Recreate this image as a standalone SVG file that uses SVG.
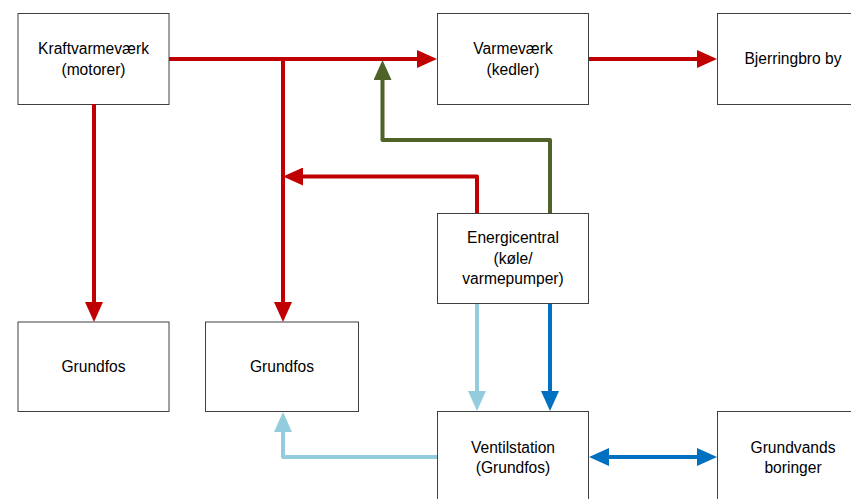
<svg xmlns="http://www.w3.org/2000/svg" width="851" height="499" viewBox="0 0 851 499">
<style>
.box{fill:#fff;stroke:#404040;stroke-width:1}
.t{font-family:"Liberation Sans",Arial,sans-serif;font-size:15.6px;fill:#000;text-anchor:middle}
.c{fill:none;stroke-width:4;stroke-linejoin:round}
.red{stroke:#C00000}
.grn{stroke:#4F6228}
.lb{stroke:#93CDDD}
.db{stroke:#0070C0}
</style>
<defs>
<marker id="aRed" viewBox="0 0 20 18" refX="10" refY="9" markerWidth="20" markerHeight="18" markerUnits="userSpaceOnUse" orient="auto-start-reverse"><path d="M0,0 L20,9 L0,18 Z" fill="#C00000"/></marker>
<marker id="aGrn" viewBox="0 0 20 18" refX="10" refY="9" markerWidth="20" markerHeight="18" markerUnits="userSpaceOnUse" orient="auto-start-reverse"><path d="M0,0 L20,9 L0,18 Z" fill="#4F6228"/></marker>
<marker id="aLb" viewBox="0 0 20 18" refX="10" refY="9" markerWidth="20" markerHeight="18" markerUnits="userSpaceOnUse" orient="auto-start-reverse"><path d="M0,0 L20,9 L0,18 Z" fill="#93CDDD"/></marker>
<marker id="aDb" viewBox="0 0 20 18" refX="10" refY="9" markerWidth="20" markerHeight="18" markerUnits="userSpaceOnUse" orient="auto-start-reverse"><path d="M0,0 L20,9 L0,18 Z" fill="#0070C0"/></marker>
</defs>
<rect width="851" height="499" fill="#fff"/>
<g id="n-kraftvarme"><rect class="box" x="18" y="13.5" width="151" height="91"/><text class="t" x="93.5" y="54">Kraftvarmeværk</text><text class="t" x="93.5" y="74.5">(motorer)</text></g>
<g id="n-varmevaerk"><rect class="box" x="437.5" y="13.5" width="151" height="91"/><text class="t" x="513" y="54">Varmeværk</text><text class="t" x="513" y="74.5">(kedler)</text></g>
<g id="n-bjerringbro"><rect class="box" x="717.5" y="13.5" width="151" height="91"/><text class="t" x="793" y="64">Bjerringbro by</text></g>
<g id="n-energicentral"><rect class="box" x="437.5" y="213.5" width="151" height="90"/><text class="t" x="513" y="243">Energicentral</text><text class="t" x="513" y="263.5">(køle/</text><text class="t" x="513" y="284">varmepumper)</text></g>
<g id="n-grundfos1"><rect class="box" x="18" y="322" width="151" height="89.5"/><text class="t" x="93.5" y="371.5">Grundfos</text></g>
<g id="n-grundfos2"><rect class="box" x="205.5" y="322" width="153" height="89.5"/><text class="t" x="282" y="371.5">Grundfos</text></g>
<g id="n-ventilstation"><rect class="box" x="437.5" y="411.5" width="151" height="92"/><text class="t" x="513" y="453">Ventilstation</text><text class="t" x="513" y="473">(Grundfos)</text></g>
<g id="n-grundvands"><rect class="box" x="717.5" y="411.5" width="151" height="92"/><text class="t" x="793" y="453">Grundvands</text><text class="t" x="793" y="473">boringer</text></g>
<g id="connectors">
<path class="c red" d="M169,59 H427" marker-end="url(#aRed)"/>
<path class="c red" d="M283,59 V312" marker-end="url(#aRed)"/>
<path class="c red" d="M94,104 V312" marker-end="url(#aRed)"/>
<path class="c red" d="M477,213 V176.5 H293" marker-end="url(#aRed)"/>
<path class="c grn" d="M550,213 V140 H382.5 V70" marker-end="url(#aGrn)"/>
<path class="c red" d="M589,59 H707" marker-end="url(#aRed)"/>
<path class="c lb" d="M477,304 V401" marker-end="url(#aLb)"/>
<path class="c db" d="M550,304 V401" marker-end="url(#aDb)"/>
<path class="c lb" d="M437,457 H283 V422" marker-end="url(#aLb)"/>
<path class="c db" d="M599,457 H707" marker-start="url(#aDb)" marker-end="url(#aDb)"/>
</g>
</svg>
